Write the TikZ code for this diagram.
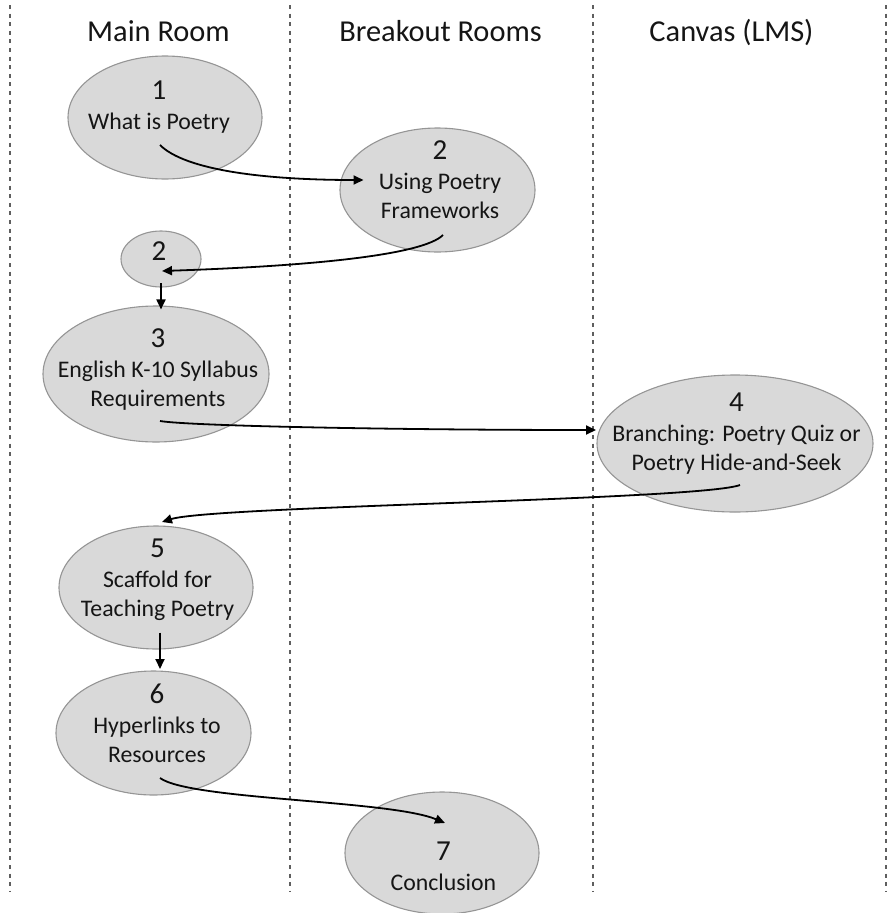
\documentclass[tikz,border=0pt]{standalone}
\usepackage{fontspec}
\setmainfont{Carlito}
\usetikzlibrary{arrows.meta,calc,shapes.geometric}

\definecolor{stagefill}{HTML}{D9D9D9}
\definecolor{stageedge}{HTML}{959595}
\definecolor{lanerule}{HTML}{5E5E5E}
\definecolor{ink}{HTML}{151515}

% number on the first row, description below it
\newcommand\stagetext[2]{\begin{tabular}[t]{@{}c@{}}{\fontsize{29}{30}\selectfont #1}\\[1pt]#2\end{tabular}}

\tikzset{
  lane/.style={draw=lanerule, line width=1.8pt, dash pattern=on 4pt off 4.6pt},
  lanehead/.style={anchor=base, text=ink, inner sep=0pt, font=\fontsize{30.4}{34}\selectfont},
  stage/.style={ellipse, draw=stageedge, fill=stagefill, line width=1.1pt, inner sep=0pt},
  stagelabel/.style={anchor=base, text=ink, inner sep=0pt, font=\fontsize{23.8}{29}\selectfont},
  flow/.style={draw=black, line width=1.8pt, -{Triangle[length=10pt,width=9pt]}},
}

\begin{document}
\begin{tikzpicture}[x=1pt,y=-1pt]
\useasboundingbox (0,0) rectangle (889,913);

% swim-lane separators
\draw[lane] (10,5) -- (10,892);
\draw[lane] (290,5) -- (290,892);
\draw[lane] (593,5) -- (593,892);
\draw[lane] (886,5) -- (886,892);

% lane titles
\node[lanehead] (hmain)  at (158.5,41.7) {Main Room};
\node[lanehead] (hbreak) at (440.5,41.7) {Breakout Rooms};
\node[lanehead] (hcanv)  at (731.5,41.7) {Canvas (LMS)};

% stages
\node[stage, minimum width=194pt, minimum height=123pt] (s1)  at (165,117.5) {};
\node[stage, minimum width=195pt, minimum height=124pt] (s2)  at (437.5,190) {};
\node[stage, minimum width=80pt,  minimum height=56pt]  (s2b) at (161,259) {};
\node[stage, minimum width=226pt, minimum height=136pt] (s3)  at (156,374) {};
\node[stage, minimum width=276pt, minimum height=137pt] (s4)  at (735,443.5) {};
\node[stage, minimum width=194pt, minimum height=123pt] (s5)  at (156,587.5) {};
\node[stage, minimum width=195pt, minimum height=124pt] (s6)  at (153.5,733) {};
\node[stage, minimum width=194pt, minimum height=122pt] (s7)  at (442,853) {};

% stage captions
\node[stagelabel] (t1)  at (159,99.5)  {\stagetext{1}{What is Poetry}};
\node[stagelabel] (t2)  at (440,159)   {\stagetext{2}{Using Poetry\\Frameworks}};
\node[anchor=base, text=ink, inner sep=0pt, font=\fontsize{29}{30}\selectfont] (t2b) at (159,260) {2};
\node[stagelabel] (t3)  at (158,347)   {\stagetext{3}{English K-10 Syllabus\\Requirements}};
\node[stagelabel] (t4)  at (736.5,411) {\stagetext{4}{Branching: Poetry Quiz or\\Poetry Hide-and-Seek}};
\node[stagelabel] (t5)  at (157.5,557) {\stagetext{5}{Scaffold for\\Teaching Poetry}};
\node[stagelabel] (t6)  at (157,703)   {\stagetext{6}{Hyperlinks to\\Resources}};
\node[stagelabel] (t7)  at (443.5,860) {\stagetext{7}{Conclusion}};

% connectors
\draw[flow] ($(s1.center)+(-5,27.5)$) .. controls +(25,25) and +(-100,0) .. ($(s2.center)+(-74,-10)$);
\draw[flow] ($(s2.center)+(5.5,45)$) .. controls +(-20,20) and +(150,-5) .. ($(s2b.center)+(1,12)$);
\draw[flow] ($(s2b.center)+(0,24)$) -- ($(s2b.center |- s3.north)+(0,4)$);
\draw[flow] ($(s3.center)+(4,47)$) .. controls +(30,5) and +(-200,0) .. ($(s4.center)+(-139,-13.5)$);
\draw[flow] ($(s4.center)+(5,41.5)$) .. controls +(-40,15) and +(50,-16) .. ($(s5.center)+(6,-65.5)$);
\draw[flow] ($(s5.center)+(4,45)$) -- ($(s6.center)+(6.5,-64)$);
\draw[flow] ($(s6.center)+(6.5,45)$) .. controls +(30,22) and +(-55,-23) .. ($(s7.center)+(3,-30)$);
\end{tikzpicture}
\end{document}
